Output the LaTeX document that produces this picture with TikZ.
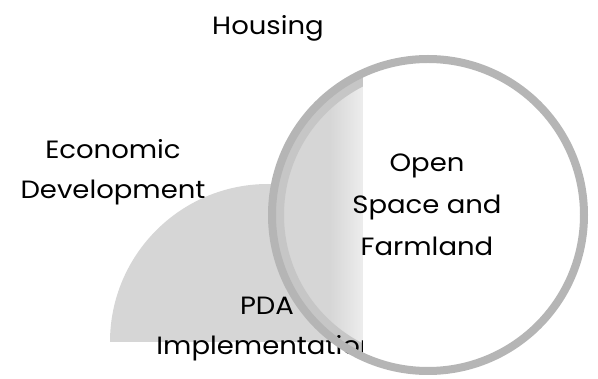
\documentclass[tikz,border=0pt]{standalone}
\usepackage{fontspec}
\setmainfont{Poppins}[FakeStretch=1.1]
\begin{document}
\begin{tikzpicture}[x=1pt,y=-1pt,
  lbl/.style={align=center,font=\fontsize{25}{40}\selectfont},
  tint/.style={fill=gray!32},
  rim/.style={draw=gray!58,line width=8pt}]
  \useasboundingbox (0,0) rectangle (598,379);
  \coordinate (pda) at (268,342);
  \coordinate (open) at (428,215);
  % grey part of the PDA circle and of the left side of the big one
  \begin{scope}
    \clip (0,0) rectangle (363,342);
    \fill[tint] (pda) circle [radius=158];
  \end{scope}
  \begin{scope}
    \clip (0,0) rectangle (363,379);
    \fill[tint] (open) circle [radius=156];
    \clip (open) circle [radius=156];
    \shade[left color=gray!32,right color=gray!14] (330,0) rectangle (363,379);
    \draw[gray!45,line width=12pt] (open) circle [radius=150];
  \end{scope}
  \node(pdatext) at (267,329)[lbl]{PDA\\Implementation};
  % white right side of the big circle
  \begin{scope}
    \clip (363,0) rectangle (598,379);
    \fill[white] (open) circle [radius=156];
  \end{scope}
  \draw[rim] (open) circle [radius=156];
  \node(housing) at (268,28)[lbl]{Housing};
  \node(econ) at (113,172)[lbl]{Economic\\Development};
  \node(opentext) at (427,205)[lbl,font=\fontsize{25}{42}\selectfont]{Open\\Space and\\Farmland};
\end{tikzpicture}
\end{document}
